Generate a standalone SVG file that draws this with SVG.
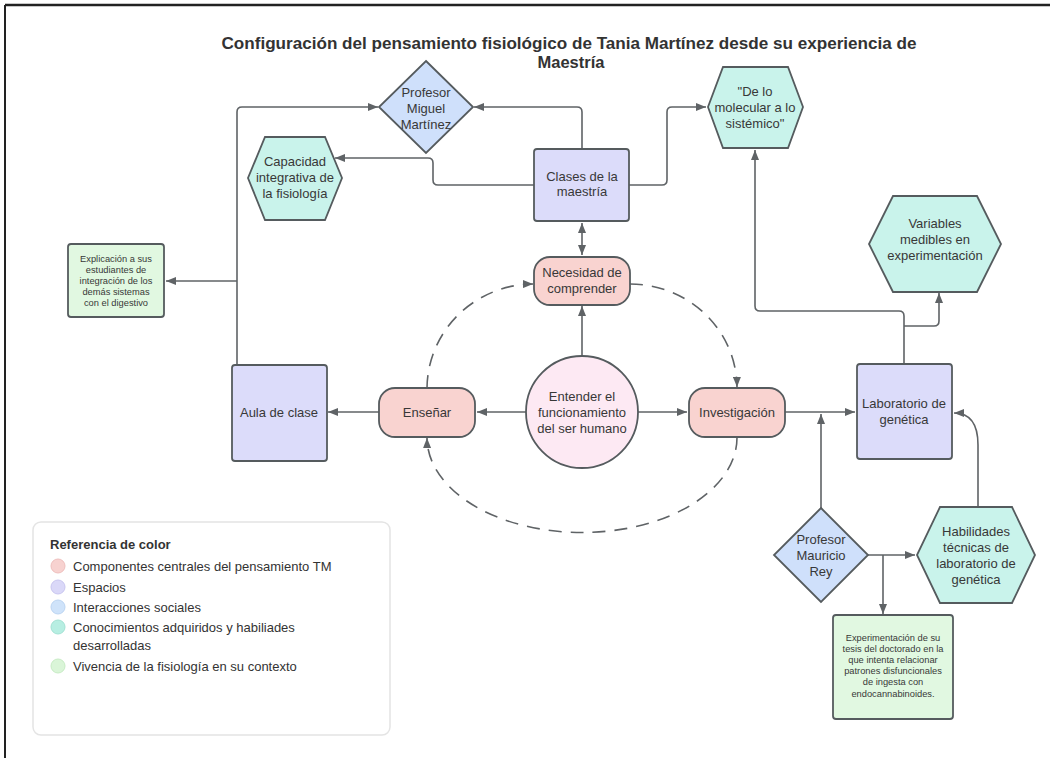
<svg xmlns="http://www.w3.org/2000/svg" width="1050" height="758" viewBox="0 0 1050 758">
  <style>
    text { font-family: "Liberation Sans", Arial, sans-serif; fill: #383838; text-anchor: middle; }
    .t13 { font-size: 13px; }
    .t9 { font-size: 9.3px; }
    .title { font-size: 16.5px; font-weight: bold; fill: #333; }
    .lg { font-size: 13px; text-anchor: start; fill: #333; }
    .lgt { font-size: 13px; font-weight: bold; text-anchor: start; fill: #333; }
    .shape { stroke: #555b5e; stroke-width: 1.8; }
    .pink { fill: #f9d3d0; }
    .core { fill: #fde9f3; }
    .space { fill: #dcdcfa; }
    .social { fill: #cfe0fb; }
    .know { fill: #c9f3eb; }
    .life { fill: #e1f8e1; }
    .conn path, .conn line { fill: none; stroke: #5f6366; stroke-width: 1.6; }
    .conn .arr { marker-end: url(#ah); }
    .conn .dash { stroke-dasharray: 13 9; }
  </style>
  <defs>
    <marker id="ah" markerWidth="10" markerHeight="8" refX="10" refY="4" orient="auto-start-reverse" markerUnits="userSpaceOnUse">
      <path d="M0,0 L10,4 L0,8 z" fill="#5f6366"/>
    </marker>
  </defs>

  <rect width="1050" height="758" fill="#ffffff"/>
  <!-- outer frame -->
  <line x1="5" y1="5" x2="1050" y2="5" stroke="#222" stroke-width="2.5"/>
  <line x1="5" y1="5" x2="5" y2="758" stroke="#222" stroke-width="2"/>

  <!-- title -->
  <text class="title" x="569" y="49" textLength="695" lengthAdjust="spacingAndGlyphs">Configuración del pensamiento fisiológico de Tania Martínez desde su experiencia de</text>
  <text class="title" x="571" y="68">Maestría</text>

  <!-- connectors -->
  <g class="conn">
    <path class="arr" d="M582,149 V112 Q582,107 577,107 H474"/>
    <path class="arr" d="M237,365 V112 Q237,107 242,107 H378"/>
    <path class="arr" d="M237,281 H166"/>
    <path class="arr" d="M534,185 H438 Q433,185 433,180 V163 Q433,158 428,158 H335"/>
    <path class="arr" d="M629,185 H662 Q667,185 667,180 V112 Q667,107 672,107 H706"/>
    <line x1="582" y1="223" x2="582" y2="255" marker-start="url(#ah)" marker-end="url(#ah)"/>
    <path class="arr" d="M582,356 V306"/>
    <path class="arr" d="M526,412 H477"/>
    <path class="arr" d="M638,412 H687"/>
    <path class="arr" d="M379,412 H328"/>
    <path class="arr" d="M785,412 H855"/>
    <path class="arr" d="M821,508 V414"/>
    <path class="arr" d="M867,555 H915"/>
    <path class="arr" d="M883,555 V614"/>
    <path class="arr" d="M978,507 V445 Q978,413 954,413"/>
    <path class="arr" d="M904,364 V316 Q904,311 899,311 H760 Q755,311 755,306 V150"/>
    <path class="arr" d="M904,326 H934 Q939,326 939,321 V293"/>
    <path class="arr dash" d="M427,388 A107,105 0 0 1 533,284"/>
    <path class="arr dash" d="M630,284 A107,104 0 0 1 737,387"/>
    <path class="arr dash" d="M737,437 A155,95 0 0 1 427,438"/>
  </g>

  <!-- nodes -->
  <g id="profesor-miguel">
    <polygon class="shape social" points="426,61 473,107 426,153 379,107"/>
    <text class="t13" x="426" y="96.5">Profesor</text>
    <text class="t13" x="426" y="112.5">Miguel</text>
    <text class="t13" x="426" y="128.5">Martínez</text>
  </g>
  <g id="de-lo-molecular">
    <polygon class="shape know" points="723,67 788,67 803,107 788,148 723,148 708,107"/>
    <text class="t13" x="755" y="95.5">"De lo</text>
    <text class="t13" x="755" y="111.5">molecular a lo</text>
    <text class="t13" x="755" y="127.5">sistémico"</text>
  </g>
  <g id="capacidad-integrativa">
    <polygon class="shape know" points="265,137 325,137 342,178 325,220 265,220 248,178"/>
    <text class="t13" x="295" y="166">Capacidad</text>
    <text class="t13" x="295" y="182">integrativa de</text>
    <text class="t13" x="295" y="198">la fisiología</text>
  </g>
  <g id="clases-maestria">
    <rect class="shape space" x="534" y="149" width="95" height="72" rx="3"/>
    <text class="t13" x="582" y="180.5">Clases de la</text>
    <text class="t13" x="582" y="196">maestría</text>
  </g>
  <g id="explicacion">
    <rect class="shape life" x="68" y="244" width="96" height="73" rx="3"/>
    <text class="t9" x="116" y="262">Explicación a sus</text>
    <text class="t9" x="116" y="273">estudiantes de</text>
    <text class="t9" x="116" y="284">integración de los</text>
    <text class="t9" x="116" y="295">demás sistemas</text>
    <text class="t9" x="116" y="306">con el digestivo</text>
  </g>
  <g id="variables-medibles">
    <polygon class="shape know" points="893,196 977,196 1001,244 977,292 893,292 869,244"/>
    <text class="t13" x="935" y="227.5">Variables</text>
    <text class="t13" x="935" y="243.5">medibles en</text>
    <text class="t13" x="935" y="259.5">experimentación</text>
  </g>
  <g id="necesidad">
    <rect class="shape pink" x="534" y="257" width="96" height="48" rx="16"/>
    <text class="t13" x="582" y="277">Necesidad de</text>
    <text class="t13" x="582" y="293">comprender</text>
  </g>
  <g id="entender">
    <circle class="shape core" cx="582" cy="412" r="56"/>
    <text class="t13" x="582" y="400.5">Entender el</text>
    <text class="t13" x="582" y="416.5">funcionamiento</text>
    <text class="t13" x="582" y="432.5">del ser humano</text>
  </g>
  <g id="ensenar">
    <rect class="shape pink" x="379" y="388" width="96" height="49" rx="16"/>
    <text class="t13" x="427" y="416.5">Enseñar</text>
  </g>
  <g id="investigacion">
    <rect class="shape pink" x="689" y="388" width="96" height="49" rx="16"/>
    <text class="t13" x="737" y="416.5">Investigación</text>
  </g>
  <g id="aula-clase">
    <rect class="shape space" x="232" y="365" width="95" height="96" rx="3"/>
    <text class="t13" x="279" y="416.5">Aula de clase</text>
  </g>
  <g id="laboratorio">
    <rect class="shape space" x="857" y="364" width="95" height="95" rx="3"/>
    <text class="t13" x="904" y="407.5">Laboratorio de</text>
    <text class="t13" x="904" y="423.5">genética</text>
  </g>
  <g id="profesor-mauricio">
    <polygon class="shape social" points="821,508 868,555 821,602 774,555"/>
    <text class="t13" x="821" y="543.5">Profesor</text>
    <text class="t13" x="821" y="559.5">Mauricio</text>
    <text class="t13" x="821" y="575.5">Rey</text>
  </g>
  <g id="habilidades">
    <polygon class="shape know" points="940,507 1012,507 1035,555 1012,603 940,603 917,555"/>
    <text class="t13" x="976" y="535.5">Habilidades</text>
    <text class="t13" x="976" y="551.5">técnicas de</text>
    <text class="t13" x="976" y="567.5">laboratorio de</text>
    <text class="t13" x="976" y="583.5">genética</text>
  </g>
  <g id="experimentacion">
    <rect class="shape life" x="833" y="615" width="120" height="104" rx="3"/>
    <text class="t9" x="893" y="640.5">Experimentación de su</text>
    <text class="t9" x="893" y="651.7">tesis del doctorado en la</text>
    <text class="t9" x="893" y="662.9">que intenta relacionar</text>
    <text class="t9" x="893" y="674.1">patrones disfuncionales</text>
    <text class="t9" x="893" y="685.3">de ingesta con</text>
    <text class="t9" x="893" y="696.5">endocannabinoides.</text>
  </g>

  <!-- colour legend -->
  <g id="legend">
    <rect x="33" y="522" width="357" height="213" rx="8" fill="#fff" stroke="#e4e4e4" stroke-width="1.5"/>
    <text class="lgt" x="50" y="549">Referencia de color</text>
    <circle cx="58" cy="566" r="7" fill="#f7d2d0" stroke="#efbfbd"/>
    <text class="lg" x="73" y="570.5">Componentes centrales del pensamiento TM</text>
    <circle cx="58" cy="587" r="7" fill="#dad8f8" stroke="#c9c6f0"/>
    <text class="lg" x="73" y="591.5">Espacios</text>
    <circle cx="58" cy="607" r="7" fill="#cfe3fa" stroke="#bcd5f2"/>
    <text class="lg" x="73" y="611.5">Interacciones sociales</text>
    <circle cx="58" cy="627" r="7" fill="#b7eee2" stroke="#a3e2d4"/>
    <text class="lg" x="73" y="631.5">Conocimientos adquiridos y habiliades</text>
    <text class="lg" x="73" y="649.5">desarrolladas</text>
    <circle cx="58" cy="666" r="7" fill="#daf5d8" stroke="#c8ecc5"/>
    <text class="lg" x="73" y="670.5">Vivencia de la fisiología en su contexto</text>
  </g>
</svg>
